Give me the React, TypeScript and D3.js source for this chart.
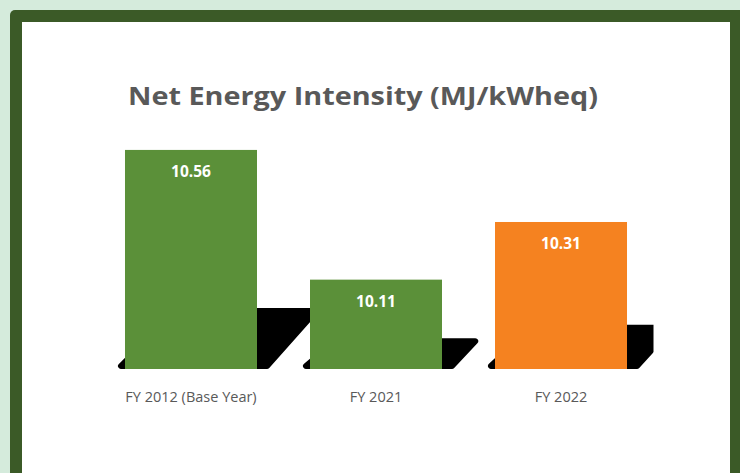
import React from 'react';
import * as d3 from 'd3';

// chart data
const categories = ['FY 2012 (Base Year)', 'FY 2021', 'FY 2022'];
const values = [10.56, 10.11, 10.31];
const barColors = ['#5B9039', '#5B9039', '#F58220'];
const chartTitle = 'Net Energy Intensity (MJ/kWheq)';

const W = 740;
const H = 473;

const App = () => {
    const x = d3
        .scaleBand<string>()
        .domain(categories)
        .range([98.5, 653.5])
        .paddingInner(0.2865)
        .paddingOuter(0.1432);

    const y = d3.scaleLinear().domain([9.8, 10.6]).range([369, 138.4]);
    const base = y(9.8);

    // skewed "shadow" behind each bar (leftover 3D effect of the original)
    const shadowPath = (cat: string, v: number) => {
        const bx = x(cat) ?? 0;
        const bw = x.bandwidth();
        const h = base - y(v);
        const sh = 10 + 0.233 * h;
        const skew = sh * 0.85;
        const x0 = bx - 4;
        const x1 = bx + bw + 10;
        return d3.line()([
            [x0, base - 3],
            [x1, base - 3],
            [x1 + skew - 3, base - sh + 3],
            [x0 + skew + 3, base - sh + 3],
        ]) + 'Z';
    };

    return (
        <svg
            width={W}
            height={H}
            style={{ position: 'fixed', left: 0, top: 0, display: 'block' }}
            fontFamily="'Open Sans', sans-serif"
        >
            <defs>
                <clipPath id="plotClip">
                    <rect x={22} y={100} width={653.5 - 22} height={base - 100} />
                </clipPath>
                <filter id="soft" x="-10%" y="-10%" width="120%" height="120%">
                    <feGaussianBlur stdDeviation="0.7" />
                </filter>
            </defs>

            {/* page + panel frame */}
            <rect x={0} y={0} width={W} height={H} fill="#D5EBDC" />
            <rect x={10} y={10} width={W} height={H} rx={5} fill="#3B5A27" />
            <rect x={22} y={22} width={730 - 22} height={H} fill="#FFFFFF" />

            <text
                x={363}
                y={105}
                textAnchor="middle"
                fontSize={25}
                fontWeight={700}
                fill="#595959"
                textLength={470}
                lengthAdjust="spacingAndGlyphs"
            >
                {chartTitle}
            </text>

            <g clipPath="url(#plotClip)">
                {categories.map((c, i) => (
                    <path
                        key={'s' + c}
                        d={shadowPath(c, values[i])}
                        fill="#000"
                        stroke="#000"
                        strokeWidth={6}
                        strokeLinejoin="round"
                        filter="url(#soft)"
                    />
                ))}
            </g>

            {categories.map((c, i) => (
                <g key={c}>
                    <rect
                        x={x(c)}
                        y={y(values[i])}
                        width={x.bandwidth()}
                        height={base - y(values[i])}
                        fill={barColors[i]}
                    />
                    <text
                        x={(x(c) ?? 0) + x.bandwidth() / 2}
                        y={y(values[i]) + 27}
                        textAnchor="middle"
                        fontSize={15.5}
                        fontWeight={700}
                        fill="#FFFFFF"
                    >
                        {values[i].toFixed(2)}
                    </text>
                    <text
                        x={(x(c) ?? 0) + x.bandwidth() / 2}
                        y={402}
                        textAnchor="middle"
                        fontSize={14.5}
                        fill="#595959"
                    >
                        {c}
                    </text>
                </g>
            ))}
        </svg>
    );
};

export default App;
